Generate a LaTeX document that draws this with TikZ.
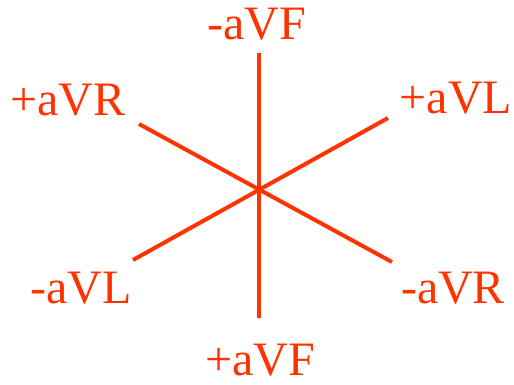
\documentclass[tikz,border=0pt]{standalone}
\usepackage{fontspec}
\setmainfont{Liberation Serif}
\usetikzlibrary{positioning}
\definecolor{leadred}{HTML}{FF3300}

\begin{document}
\begin{tikzpicture}[
        x=1pt, y=-1pt,
        leadline/.style={draw=leadred, line width=4pt},
        leadlabel/.style={text=leadred, inner sep=0pt, anchor=base, font=\fontsize{48}{50}\selectfont},
    ]
    \useasboundingbox (0,0) rectangle (514,384);

    %% ===== Centre and axis ends =====
    \coordinate (c) at (259,187);
    \coordinate (avfneg) at (259,53);
    \coordinate (avfpos) at (259,318);
    \coordinate (avlpos) at (388,118);
    \coordinate (avlneg) at (133,260);
    \coordinate (avrpos) at (139,124);
    \coordinate (avrneg) at (392,262);

    %% ===== Axes =====
    \draw[leadline] (avfneg) -- (avfpos);
    \draw[leadline] (avlneg) -- (avlpos);
    \draw[leadline] (avrpos) -- (avrneg);

    %% ===== Labels =====
    \node[leadlabel] (lavfneg) at (257,39) {-aVF};
    \node[leadlabel] (lavfpos) at (260,375) {+aVF};
    \node[leadlabel] (lavrpos) at (68,115) {+aVR};
    \node[leadlabel] (lavlpos) at (456,113) {+aVL};
    \node[leadlabel] (lavlneg) at (81,303) {-aVL};
    \node[leadlabel] (lavrneg) at (453,303) {-aVR};
\end{tikzpicture}
\end{document}
